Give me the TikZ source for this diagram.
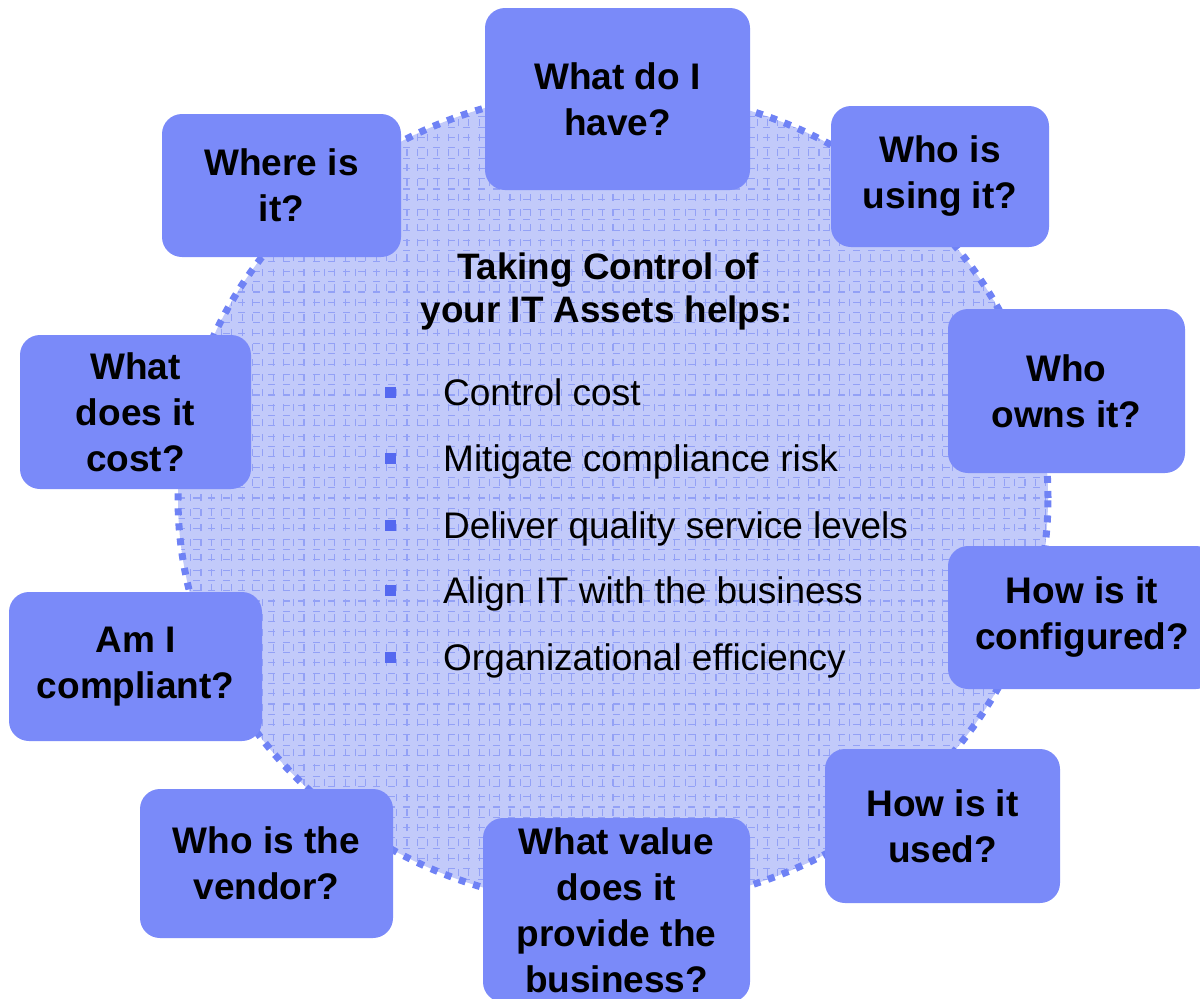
\documentclass[tikz,border=0pt]{standalone}
\usepackage{fontspec}
\setmainfont{Liberation Sans}
\usetikzlibrary{shapes.geometric}
\definecolor{boxblue}{HTML}{7A8AF9}
\definecolor{ellfill}{HTML}{C2CAFA}
\definecolor{gridc}{HTML}{93A1F6}
\definecolor{bordc}{HTML}{6F82F5}
\definecolor{bulc}{HTML}{5468F0}
\tikzset{
  qbox/.style={fill=boxblue, rounded corners=20pt, inner sep=0pt, align=center,
    font=\bfseries\fontsize{37}{46}\selectfont},
  bulletsq/.style={rectangle, fill=bulc, minimum size=11pt, inner sep=0pt},
  itemtext/.style={anchor=base west, inner sep=0pt, font=\fontsize{37}{40}\selectfont},
  titletext/.style={anchor=base, inner sep=0pt, font=\bfseries\fontsize{36.8}{40}\selectfont},
  hubshape/.style={ellipse, draw=bordc, line width=7pt, dash pattern=on 7pt off 8pt,
    fill=ellfill, inner sep=0pt, minimum width=870pt, minimum height=816pt,
    path picture={\draw[gridc, line width=1.1pt, step=10.3pt]
      (path picture bounding box.south west) grid (path picture bounding box.north east);}}
}
\begin{document}
\begin{tikzpicture}[x=1pt,y=-1pt]
\useasboundingbox (0,0) rectangle (1200,999);
\node[hubshape] (hub) at (613,498) {};

\node[titletext] (title1) at (608,279) {Taking Control of};
\node[titletext] (title2) at (607,322) {your IT Assets helps:};

\node[bulletsq] (b1) at (390.5,392) {};
\node[bulletsq] (b2) at (390.5,458) {};
\node[bulletsq] (b3) at (390.5,525) {};
\node[bulletsq] (b4) at (390.5,590) {};
\node[bulletsq] (b5) at (390.5,657) {};
\node[itemtext] (t1) at (443,405) {Control cost};
\node[itemtext] (t2) at (443,471) {Mitigate compliance risk};
\node[itemtext] (t3) at (443,538) {Deliver quality service levels};
\node[itemtext] (t4) at (443,603) {Align IT with the business};
\node[itemtext] (t5) at (443,670) {Organizational efficiency};

\node[qbox, minimum width=265pt, minimum height=182pt] (have) at (617.5,99) {What do I\\have?};
\node[qbox, minimum width=218pt, minimum height=141pt] (using) at (940,176.5) {Who is\\using it?};
\node[qbox, minimum width=239pt, minimum height=143pt] (where) at (281.5,185.5) {Where is\\it?};
\node[qbox, minimum width=231pt, minimum height=154pt] (cost) at (135.5,412) {What\\does it\\cost?};
\node[qbox, minimum width=237pt, minimum height=164pt] (owns) at (1066.5,391) {Who\\owns it?};
\node[qbox, minimum width=268pt, minimum height=143pt] (config) at (1082,617.5) {How is it\\configured?};
\node[qbox, minimum width=253pt, minimum height=149pt] (compliant) at (135.5,666.5) {Am I\\compliant?};
\node[qbox, minimum width=235pt, minimum height=154pt] (used) at (942.5,826) {How is it\\used?};
\node[qbox, minimum width=253pt, minimum height=149pt] (vendor) at (266.5,863.5) {Who is the\\vendor?};
\node[qbox, minimum width=267pt, minimum height=184pt] (value) at (616.5,910) {What value\\does it\\provide the\\business?};
\end{tikzpicture}
\end{document}
